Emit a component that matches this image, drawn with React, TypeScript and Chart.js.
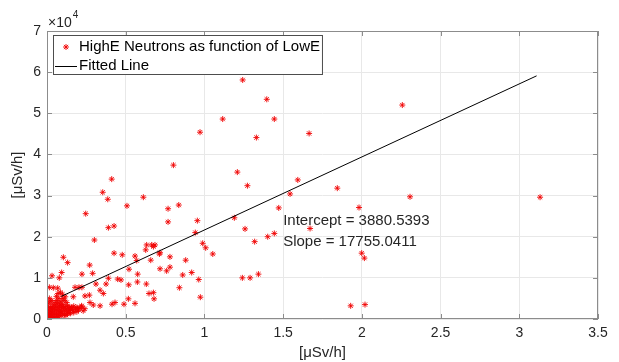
import React, { useEffect, useRef } from 'react';
import { Chart, registerables } from 'chart.js';

Chart.register(...registerables);

// ---------- data ----------
const xTicks = [0, 0.5, 1, 1.5, 2, 2.5, 3, 3.5];
const yTicks = [0, 1, 2, 3, 4, 5, 6, 7]; // ×10^4

// scattered points: x [μSv/h], y [×10^4 μSv/h]
const spreadX = [
  1.243, 1.396, 1.116, 1.444, 0.972, 1.33, 1.665, 0.803, 1.209, 0.411, 1.593, 2.257, 1.844, 2.306, 3.132,
  1.982, 1.671, 1.999, 2.016, 1.929, 2.02, 0.354, 0.386, 0.612, 0.508, 0.769, 0.837, 0.246, 0.955, 0.769,
  1.19, 1.258, 1.273, 1.472, 1.544, 0.39, 0.426, 0.301, 1.319, 1.402, 1.444, 0.942, 0.989, 1.008, 1.053,
  0.426, 0.478, 0.559, 0.57, 0.627, 0.633, 0.665, 0.686, 0.676, 0.659, 0.714, 0.718, 0.781, 0.881, 0.718,
  0.76, 0.781, 0.862, 0.919, 0.964, 0.974, 0.841, 1.241, 1.29, 1.343, 0.576, 0.521, 0.47, 0.449, 0.519,
  0.574, 0.631, 0.648, 0.676, 0.68, 0.559, 0.517, 0.489, 0.432, 0.413, 0.337, 0.294, 0.271, 0.29, 0.222,
  0.131, 0.104, 0.093, 0.032, 0.078, 0.39, 0.375, 0.311, 0.337, 0.358, 0.269, 0.241, 0.178, 0.203, 0.222,
  0.116, 0.167, 0.04, 0.015, 0.22, 0.193, 0.155, 0.273, 0.068,
];
const spreadY = [
  5.81, 5.34, 4.86, 4.86, 4.54, 4.41, 4.51, 3.74, 3.57, 3.4, 3.38, 5.2, 3.18, 2.97, 2.96,
  2.71, 2.2, 1.6, 1.48, 0.32, 0.35, 3.08, 2.91, 2.96, 2.75, 2.68, 2.77, 2.56, 2.39, 2.36,
  2.46, 2.19, 3.24, 2.7, 3.04, 2.22, 2.26, 1.92, 1.88, 2.0, 2.08, 2.1, 1.84, 1.73, 1.58,
  1.6, 1.56, 1.53, 1.42, 1.68, 1.8, 1.8, 1.8, 1.76, 1.43, 1.58, 1.61, 1.51, 1.43, 1.22,
  1.17, 1.26, 1.07, 1.13, 0.96, 0.53, 0.76, 1.0, 1.0, 1.09, 1.09, 1.21, 0.95, 0.97, 0.83,
  0.9, 0.85, 0.62, 0.64, 0.49, 0.38, 0.49, 0.36, 0.4, 0.36, 0.32, 0.34, 1.31, 1.11, 1.09,
  1.37, 1.5, 1.13, 1.05, 1.0, 0.99, 0.85, 0.85, 0.7, 0.62, 0.58, 0.56, 0.77, 0.77, 0.77,
  0.54, 0.54, 0.76, 0.77, 0.32, 0.26, 0.28, 0.4, 0.75,
];

// dense cluster near the origin: x [μSv/h], y [×10^4 μSv/h]
const clusterX = [
  0.002, 0.005, 0.008, 0.01, 0.012, 0.015, 0.018, 0.02, 0.022, 0.025, 0.028, 0.03, 0.032, 0.035, 0.038,
  0.04, 0.042, 0.045, 0.048, 0.05, 0.052, 0.055, 0.058, 0.06, 0.062, 0.065, 0.068, 0.07, 0.072, 0.075,
  0.078, 0.08, 0.082, 0.085, 0.088, 0.09, 0.092, 0.095, 0.098, 0.1, 0.105, 0.11, 0.115, 0.12, 0.125,
  0.13, 0.135, 0.14, 0.145, 0.15, 0.16, 0.165, 0.17, 0.18, 0.19, 0.2, 0.21, 0.22, 0.23, 0.24,
  0.01, 0.03, 0.05, 0.07, 0.09, 0.11, 0.13, 0.15, 0.04, 0.06, 0.08, 0.1, 0.12, 0.14, 0.17,
  0.19, 0.005, 0.01, 0.02, 0.015, 0.03, 0.06, 0.085, 0.07, 0.11, 0.1, 0.125, 0.02, 0.0, 0.003, 0.008,
];
const clusterY = [
  0.02, 0.05, 0.1, 0.03, 0.15, 0.08, 0.2, 0.12, 0.05, 0.25, 0.18, 0.1, 0.3, 0.22, 0.14,
  0.06, 0.35, 0.27, 0.19, 0.11, 0.4, 0.31, 0.23, 0.15, 0.45, 0.36, 0.28, 0.2, 0.12, 0.5,
  0.38, 0.3, 0.22, 0.16, 0.42, 0.33, 0.26, 0.18, 0.6, 0.35, 0.28, 0.21, 0.3, 0.24, 0.17,
  0.32, 0.26, 0.2, 0.29, 0.23, 0.27, 0.2, 0.31, 0.24, 0.28, 0.22, 0.26, 0.3, 0.2, 0.25,
  0.01, 0.02, 0.03, 0.05, 0.08, 0.1, 0.12, 0.14, 0.01, 0.07, 0.09, 0.13, 0.09, 0.15, 0.16,
  0.18, 0.3, 0.38, 0.42, 0.5, 0.45, 0.55, 0.65, 0.62, 0.45, 0.5, 0.4, 0.28, 0.0, 0.12, 0.22,
];

// fitted line end points
const fitX = [0.09, 3.11];
const fitY = [0.548, 5.91]; // ×10^4

const legendLabels = ['HighE Neutrons as function of LowE', 'Fitted Line'];
const annotationLines = ['Intercept = 3880.5393', 'Slope = 17755.0411'];
const annotationAt = { x: 1.5, y: 2.13 }; // data coords (y ×10^4)
const axisTitle = '[μSv/h]';
const SCALE = 10000;

const FONT = "'Liberation Sans', Arial, Helvetica, sans-serif";
const TEXT = '#262626';
const FRAME = '#8c8c8c';
const GRID = '#e8e8e8';
const RED = '#f00000';

function drawStar(ctx: CanvasRenderingContext2D, cx: number, cy: number, r: number) {
  ctx.beginPath();
  ctx.moveTo(cx - r, cy);
  ctx.lineTo(cx + r, cy);
  ctx.moveTo(cx, cy - r);
  ctx.lineTo(cx, cy + r);
  const d = r * Math.SQRT1_2;
  ctx.moveTo(cx - d, cy - d);
  ctx.lineTo(cx + d, cy + d);
  ctx.moveTo(cx - d, cy + d);
  ctx.lineTo(cx + d, cy - d);
  ctx.stroke();
}

const overlay = {
  id: 'overlay',
  afterDraw(chart: any) {
    const { ctx, chartArea: a, scales } = chart;
    const x = scales.x;
    const y = scales.y;
    ctx.save();

    // box
    ctx.strokeStyle = FRAME;
    ctx.lineWidth = 1;
    ctx.strokeRect(a.left + 0.5, a.top + 0.5, a.right - a.left - 1, a.bottom - a.top - 1);

    // inward ticks on all sides
    ctx.beginPath();
    xTicks.forEach((v) => {
      const px = Math.round(x.getPixelForValue(v)) + 0.5;
      ctx.moveTo(px, a.bottom);
      ctx.lineTo(px, a.bottom - 5);
      ctx.moveTo(px, a.top);
      ctx.lineTo(px, a.top + 5);
    });
    yTicks.forEach((v) => {
      const py = Math.round(y.getPixelForValue(v * SCALE)) + 0.5;
      ctx.moveTo(a.left, py);
      ctx.lineTo(a.left + 5, py);
      ctx.moveTo(a.right, py);
      ctx.lineTo(a.right - 5, py);
    });
    ctx.stroke();

    // exponent ×10^4
    ctx.fillStyle = TEXT;
    ctx.textBaseline = 'middle';
    ctx.textAlign = 'left';
    ctx.font = `14px ${FONT}`;
    ctx.fillText('×10', a.left + 1, a.top - 8);
    const w10 = ctx.measureText('×10').width;
    ctx.font = `10px ${FONT}`;
    ctx.fillText('4', a.left + 1 + w10 + 1, a.top - 16);

    // axis titles
    ctx.font = `15px ${FONT}`;
    ctx.textAlign = 'center';
    ctx.fillText(axisTitle, (a.left + a.right) / 2, 353);
    ctx.save();
    ctx.translate(18, (a.top + a.bottom) / 2);
    ctx.rotate(-Math.PI / 2);
    ctx.fillText(axisTitle, 0, 0);
    ctx.restore();

    // annotation text
    ctx.font = `15px ${FONT}`;
    ctx.textAlign = 'left';
    const ax = x.getPixelForValue(annotationAt.x);
    const ay = y.getPixelForValue(annotationAt.y * SCALE);
    ctx.fillText(annotationLines[0], ax, ay - 10.5);
    ctx.fillText(annotationLines[1], ax, ay + 10.5);

    // legend
    const lx = a.left + 6;
    const ly = a.top + 4;
    ctx.font = `15px ${FONT}`;
    const tw = Math.max(...legendLabels.map((s) => ctx.measureText(s).width));
    const bw = 26 + tw + 3;
    const bh = 40;
    ctx.fillStyle = '#ffffff';
    ctx.fillRect(lx, ly, bw, bh);
    ctx.strokeStyle = '#4d4d4d';
    ctx.strokeRect(lx + 0.5, ly + 0.5, bw - 1, bh - 1);
    ctx.strokeStyle = RED;
    ctx.lineWidth = 0.9;
    drawStar(ctx, lx + 13, ly + 12, 3);
    ctx.lineWidth = 1;
    ctx.strokeStyle = '#000000';
    ctx.beginPath();
    ctx.moveTo(lx + 2, ly + 31.5);
    ctx.lineTo(lx + 24, ly + 31.5);
    ctx.stroke();
    ctx.fillStyle = '#000000';
    ctx.textAlign = 'left';
    ctx.fillText(legendLabels[0], lx + 26, ly + 12);
    ctx.fillText(legendLabels[1], lx + 26, ly + 31);

    ctx.restore();
  },
};

export default function App() {
  const ref = useRef<HTMLCanvasElement | null>(null);

  useEffect(() => {
    if (!ref.current) return;
    const scatterData = [
      ...clusterX.map((v, i) => ({ x: v, y: clusterY[i] * SCALE })),
      ...spreadX.map((v, i) => ({ x: v, y: spreadY[i] * SCALE })),
    ];
    const lineData = fitX.map((v, i) => ({ x: v, y: fitY[i] * SCALE }));
    const tickFont = { family: FONT, size: 14 };

    const chart = new Chart(ref.current, {
      type: 'scatter',
      data: {
        datasets: [
          {
            type: 'line',
            label: legendLabels[1],
            data: lineData,
            borderColor: '#000000',
            borderWidth: 1,
            pointRadius: 0,
            fill: false,
            order: 0,
          } as any,
          {
            type: 'scatter',
            label: legendLabels[0],
            data: scatterData,
            pointStyle: 'star',
            pointRadius: 3,
            borderColor: RED,
            backgroundColor: RED,
            borderWidth: 0.9,
            order: 1,
          } as any,
        ],
      },
      options: {
        responsive: false,
        animation: false,
        devicePixelRatio: 1,
        events: [],
        layout: { padding: { left: 0, top: 31, right: 21, bottom: 0 } },
        plugins: { legend: { display: false }, tooltip: { enabled: false } },
        scales: {
          x: {
            type: 'linear',
            min: 0,
            max: 3.5,
            afterBuildTicks: (s: any) => {
              s.ticks = xTicks.map((v) => ({ value: v }));
            },
            afterFit: (s: any) => {
              s.height = 43;
            },
            ticks: {
              font: tickFont,
              color: TEXT,
              padding: 6,
              maxRotation: 0,
              callback: (v: any) => String(v),
            },
            grid: { color: GRID, drawTicks: false, lineWidth: 1 },
            border: { display: false },
          },
          y: {
            type: 'linear',
            min: 0,
            max: 7 * SCALE,
            afterBuildTicks: (s: any) => {
              s.ticks = yTicks.map((v) => ({ value: v * SCALE }));
            },
            afterFit: (s: any) => {
              s.width = 47;
            },
            ticks: {
              font: tickFont,
              color: TEXT,
              padding: 6,
              callback: (v: any) => String(Number(v) / SCALE),
            },
            grid: { color: GRID, drawTicks: false, lineWidth: 1 },
            border: { display: false },
          },
        },
      },
      plugins: [overlay],
    } as any);
    return () => chart.destroy();
  }, []);

  return (
    <div style={{ position: 'absolute', left: 0, top: 0, width: 619, height: 362, background: '#fff' }}>
      <canvas ref={ref} width={619} height={362} style={{ width: 619, height: 362, display: 'block' }} />
    </div>
  );
}
